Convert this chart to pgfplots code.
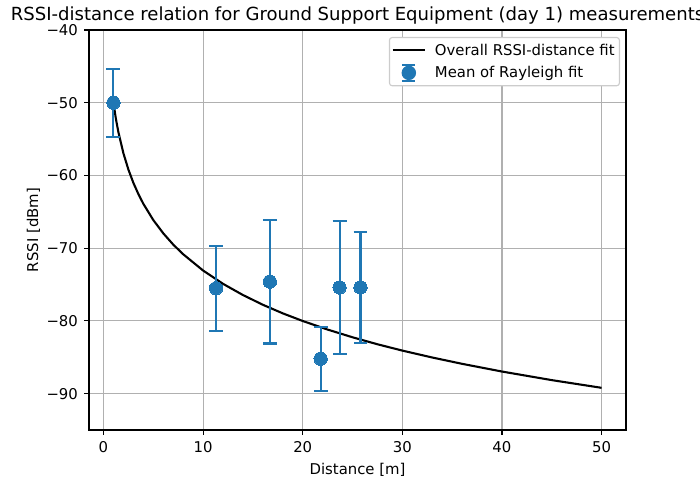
\documentclass[border=0pt]{standalone}
\usepackage{fontspec}
\setmainfont{DejaVu Sans}
\usepackage{pgfplots}
\pgfplotsset{compat=1.18}
\definecolor{tabblue}{RGB}{31,119,180}
\definecolor{gridgray}{RGB}{176,176,176}
\definecolor{legendedge}{RGB}{204,204,204}

\pgfplotsset{
  fitlegend/.style={legend image code/.code={
    \path[draw=none, fill=none] (0pt,0pt) -- (28.5pt,0pt);
    \draw[black, line width=1.5pt] (0pt,0pt) -- (23.4pt,0pt);}},
  meanlegend/.style={legend image code/.code={
    \path[draw=none, fill=none] (0pt,0pt) -- (28.5pt,0pt);
    \draw[tabblue, line width=1.2pt] (11.7pt,-5.8pt) -- (11.7pt,5.8pt);
    \draw[tabblue, line width=1.2pt] (6.9pt,-5.8pt) -- (16.5pt,-5.8pt);
    \draw[tabblue, line width=1.2pt] (6.9pt,5.8pt) -- (16.5pt,5.8pt);
    \fill[tabblue] (11.7pt,0pt) circle (4.8pt);}},
}

\begin{document}
\begin{tikzpicture}
\begin{axis}[
  scale only axis,
  width=386.6pt, height=288pt,
  xmin=-1.45, xmax=52.45,
  ymin=-95, ymax=-40,
  xtick={0,10,20,30,40,50},
  ytick={-90,-80,-70,-60,-50,-40},
  yticklabels={−90,−80,−70,−60,−50,−40},
  /pgf/number format/assume math mode=true,
  tick pos=left,
  tick align=outside,
  major tick length=3.5pt,
  tick style={black, line width=0.8pt},
  axis line style={line width=0.8pt},
  grid=major,
  grid style={gridgray, line width=0.8pt},
  ticklabel style={font=\fontsize{10.7}{12.8}\selectfont},
  xticklabel style={yshift=-1pt},
  yticklabel style={xshift=-1pt},
  title={RSSI-distance relation for Ground Support Equipment (day 1) measurements},
  every axis title/.style={font=\fontsize{13}{15}\selectfont,
    at={(axis description cs:0.5,1.0226)}, anchor=base},
  xlabel={Distance [m]},
  every axis x label/.style={font=\fontsize{10.7}{12.8}\selectfont,
    at={(axis description cs:0.5,-0.1101)}, anchor=base},
  ylabel={RSSI [dBm]},
  every axis y label/.style={font=\fontsize{10.7}{12.8}\selectfont,
    at={(axis description cs:-0.0949,0.5)}, anchor=base, rotate=90},
  legend cell align=left,
  legend style={
    at={(axis description cs:1,1)}, anchor=north east,
    xshift=-4.3pt, yshift=-5pt,
    draw=legendedge, rounded corners=2pt, line width=0.8pt,
    font=\fontsize{10.7}{12.8}\selectfont,
    inner xsep=1.5pt, inner ysep=2.5pt,
    row sep=2.5pt,
  },
]
\coordinate (bl) at (rel axis cs:0,0);
\coordinate (tr) at (rel axis cs:1,1);

% log-distance path loss fit
\addplot[black, line width=1.5pt, fitlegend]
  coordinates {
  (1,-50.00) (1.25,-52.24) (1.5,-54.06) (2,-56.94) (2.5,-59.18)
  (3,-61.01) (3.5,-62.55) (4,-63.89) (5,-66.13) (6,-67.95)
  (7,-69.50) (8,-70.83) (10,-73.07) (12,-74.90) (14,-76.44)
  (16,-77.78) (18,-78.96) (20,-80.01) (22.5,-81.19) (25,-82.25)
  (27.5,-83.21) (30,-84.08) (33,-85.03) (36,-85.90) (40,-86.96)
  (45,-88.14) (50,-89.20)
};
\addlegendentry{Overall RSSI-distance fit}

% spread of each distance group (drawn beneath the means)
\pgfplotstableread{
d     rssi   err
1     -50.0  4.7
11.3  -75.5  5.85
16.7  -74.6  8.5
21.8  -85.2  4.4
23.7  -75.4  9.1
25.8  -75.4  7.6
}\meanstable
\addplot[draw=none, mark=none, forget plot,
  error bars/.cd, y dir=both, y explicit,
  error bar style={tabblue, line width=1.5pt},
  error mark options={tabblue, line width=1.5pt, mark size=5pt, rotate=90}]
  table[x=d, y=rssi, y error=err] {\meanstable};

% means
\addplot[only marks, color=tabblue, mark=*, mark size=4.8pt,
  mark options={draw=tabblue, fill=tabblue, line width=0pt},
  meanlegend]
  table[x=d, y=rssi] {\meanstable};
\addlegendentry{Mean of Rayleigh fit}
\end{axis}
\pgfresetboundingbox
\path[use as bounding box] ([shift={(-64.1pt,-39.6pt)}]bl) rectangle ([shift={(53.3pt,21.6pt)}]tr);
\end{tikzpicture}
\end{document}
